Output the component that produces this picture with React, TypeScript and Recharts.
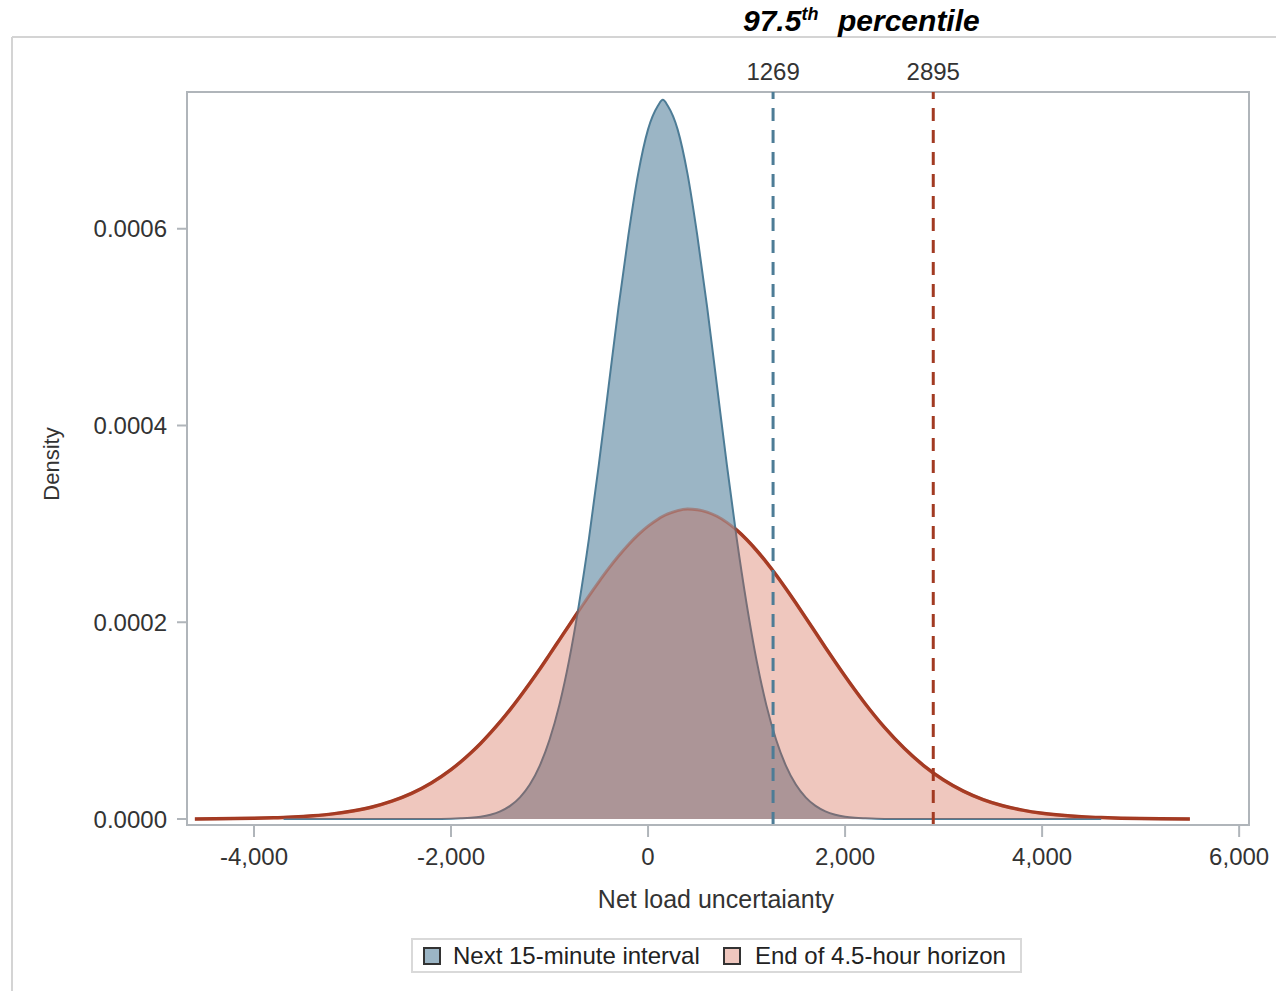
import React from 'react';
import { ComposedChart, Area, XAxis, YAxis, ReferenceLine, ReferenceArea } from 'recharts';

const FONT = '"Liberation Sans", Arial, Helvetica, sans-serif';

// Net load uncertainty grid (x values)
const xValues = [
  -4600, -4400, -4200, -4000, -3800, -3700, -3600, -3400, -3200, -3000, -2800, -2600, -2400, -2200,
  -2000, -1900, -1800, -1700, -1600, -1500, -1400, -1300, -1200, -1100, -1000, -900, -800, -700,
  -600, -500, -400, -300, -200, -100, 0, 100, 150, 200, 300, 400, 500, 600, 700, 800, 900, 1000, 1100,
  1200, 1300, 1400, 1500, 1600, 1700, 1800, 1900, 2000, 2100, 2200,
  2400, 2600, 2800, 3000, 3200, 3400, 3600, 3800, 4000, 4200, 4400, 4600, 4800, 5000, 5200, 5500,
];

// Density, next 15-minute interval
const next15Values = [
  null, null, null, null, null, 0, 0, 0, 0, 0, 0, 0, 0, 0,
  0.0000003, 0.0000007, 0.0000013, 0.0000024, 0.0000044, 0.0000078, 0.0000133, 0.000022, 0.000035, 0.000054, 0.0000805, 0.000116, 0.000162, 0.000219,
  0.000285, 0.00036, 0.00044, 0.00052, 0.000593, 0.000656, 0.000701, 0.000725, 0.000731, 0.000725, 0.000701, 0.000656, 0.000593, 0.00052, 0.00044, 0.00036, 0.000285, 0.000219, 0.000162,
  0.000116, 0.0000805, 0.000054, 0.000035, 0.000022, 0.0000133, 0.0000078, 0.0000044, 0.0000024, 0.0000013, 0.0000007,
  0, 0, 0, 0, 0, 0, 0, 0, 0, 0, 0, 0, null, null, null, null,
];

// Density, end of 4.5-hour horizon
const end45Values = [
  0.00000012, 0.00000022, 0.0000004, 0.0000007, 0.0000012, 0.00000155, 0.000002, 0.0000033, 0.0000052, 0.0000081, 0.0000122, 0.0000181, 0.000026, 0.0000366,
  0.0000501, 0.0000582, 0.0000671, 0.0000768, 0.0000875, 0.0000989, 0.0001112, 0.0001243, 0.000138, 0.0001522, 0.0001671, 0.0001821, 0.0001971, 0.000212,
  0.0002269, 0.0002411, 0.0002547, 0.0002673, 0.0002788, 0.000289, 0.0002977, 0.0003048, 0.0003077, 0.0003101, 0.0003135, 0.000315, 0.0003144, 0.000312, 0.0003077, 0.0003015, 0.0002936, 0.0002841, 0.0002732,
  0.0002611, 0.000248, 0.000234, 0.0002195, 0.0002046, 0.0001895, 0.0001744, 0.0001596, 0.0001451, 0.0001311, 0.0001177,
  0.0000931, 0.0000719, 0.0000541, 0.0000397, 0.0000284, 0.0000198, 0.0000135, 0.000009, 0.0000058, 0.0000037, 0.0000023, 0.0000014, 0.0000008, 0.00000045, 0.00000025, 0.0000001,
];

const xTicks = [-4000, -2000, 0, 2000, 4000, 6000];
const yTicks = [0, 0.0002, 0.0004, 0.0006];
const xDomain = [-4680, 6100];
const yDomain = [-0.0000061, 0.000739];
const percentileNext15 = 1269;
const percentileEnd45 = 2895;
const seriesNames = ['Next 15-minute interval', 'End of 4.5-hour horizon'];

const data = xValues.map((x, i) => ({ x, next15: next15Values[i], end45: end45Values[i] }));

const BLUE_FILL = '#9bb5c5';
const BLUE_LINE = '#4d7c96';
const RED_LINE = '#a23a22';
const RED_FILL = '#cf553a';
const PINK_SWATCH = '#efc7be';
const AXIS = '#b0b5ba';

export default function App() {
  return (
    <div style={{ position: 'absolute', left: 0, top: 0, width: 1276, height: 991, background: '#fff', fontFamily: FONT }}>
      <svg width={1276} height={991} style={{ position: 'absolute', left: 0, top: 0 }}>
        <line x1={12} y1={37} x2={1276} y2={37} stroke="#d4d4d4" strokeWidth={2} />
        <line x1={12} y1={37} x2={12} y2={991} stroke="#d4d4d4" strokeWidth={2} />
        <text x={743} y={31} fontFamily={FONT} fontSize={30} fontWeight="bold" fontStyle="italic" fill="#000">
          97.5<tspan fontSize={18} dy={-11}>th</tspan>
        </text>
        <text x={838} y={31} fontFamily={FONT} fontSize={30} fontWeight="bold" fontStyle="italic" fill="#000">percentile</text>
        <text x={716} y={908} fontFamily={FONT} fontSize={25} textAnchor="middle" fill="#333">Net load uncertaianty</text>
        <text x={51} y={464} fontFamily={FONT} fontSize={22} textAnchor="middle" dominantBaseline="central" fill="#333" transform="rotate(-90 51 464)">Density</text>
      </svg>
      <div style={{ position: 'absolute', left: 0, top: 0 }}>
        <ComposedChart
          width={1276}
          height={991}
          data={data}
          margin={{ top: 92, right: 27, left: 87, bottom: 106 }}
          style={{ fontFamily: FONT }}
        >
          <XAxis
            dataKey="x"
            type="number"
            domain={xDomain}
            allowDataOverflow
            ticks={xTicks}
            interval={0}
            tickFormatter={(v: number) => v.toLocaleString('en-US')}
            tickSize={12}
            tickMargin={11}
            height={60}
            axisLine={{ stroke: AXIS, strokeWidth: 2 }}
            tickLine={{ stroke: AXIS, strokeWidth: 2 }}
            tick={{ fill: '#333', fontSize: 24, fontFamily: FONT }}
          />
          <YAxis
            type="number"
            domain={yDomain}
            allowDataOverflow
            ticks={yTicks}
            interval={0}
            tickFormatter={(v: number) => v.toFixed(4)}
            tickSize={10}
            tickMargin={10}
            width={100}
            axisLine={{ stroke: AXIS, strokeWidth: 2 }}
            tickLine={{ stroke: AXIS, strokeWidth: 2 }}
            tick={{ fill: '#333', fontSize: 24, fontFamily: FONT }}
          />
          <Area
            dataKey="end45"
            type="monotone"
            fill="none"
            stroke={RED_LINE}
            strokeWidth={3.5}
            baseValue={0}
            isAnimationActive={false}
            dot={false}
            activeDot={false}
          />
          <Area
            dataKey="next15"
            name={seriesNames[0]}
            type="monotone"
            fill={BLUE_FILL}
            fillOpacity={1}
            stroke={BLUE_LINE}
            strokeWidth={2}
            baseValue={0}
            isAnimationActive={false}
            dot={false}
            activeDot={false}
          />
          <Area
            dataKey="end45"
            name={seriesNames[1]}
            type="monotone"
            fill={RED_FILL}
            fillOpacity={0.33}
            stroke={RED_LINE}
            strokeOpacity={0.4}
            strokeWidth={3}
            baseValue={0}
            isAnimationActive={false}
            dot={false}
            activeDot={false}
          />
          <ReferenceLine
            x={percentileNext15}
            stroke={BLUE_LINE}
            strokeWidth={3}
            strokeDasharray="13 9"
            label={{ value: String(percentileNext15), position: 'top', offset: 12, fill: '#333', fontSize: 24, fontFamily: FONT }}
          />
          <ReferenceLine
            x={percentileEnd45}
            stroke={RED_LINE}
            strokeWidth={3}
            strokeDasharray="13 9"
            label={{ value: String(percentileEnd45), position: 'top', offset: 12, fill: '#333', fontSize: 24, fontFamily: FONT }}
          />
          <ReferenceArea
            x1={xDomain[0]}
            x2={xDomain[1]}
            y1={yDomain[0]}
            y2={yDomain[1]}
            fill="none"
            fillOpacity={0}
            stroke={AXIS}
            strokeWidth={2}
            ifOverflow="visible"
          />
        </ComposedChart>
      </div>
      <div
        style={{
          position: 'absolute',
          left: 411,
          top: 938,
          width: 611,
          height: 35,
          boxSizing: 'border-box',
          border: '2px solid #d9d9d9',
          fontFamily: FONT,
          fontSize: 24,
          color: '#222',
        }}
      >
        <div style={{ position: 'absolute', left: 10, top: 7, width: 18, height: 18, boxSizing: 'border-box', border: '2px solid #333', background: BLUE_FILL }} />
        <span style={{ position: 'absolute', left: 40, top: 0, lineHeight: '31px', whiteSpace: 'nowrap' }}>{seriesNames[0]}</span>
        <div style={{ position: 'absolute', left: 310, top: 7, width: 18, height: 18, boxSizing: 'border-box', border: '2px solid #333', background: PINK_SWATCH }} />
        <span style={{ position: 'absolute', left: 342, top: 0, lineHeight: '31px', whiteSpace: 'nowrap' }}>{seriesNames[1]}</span>
      </div>
    </div>
  );
}
